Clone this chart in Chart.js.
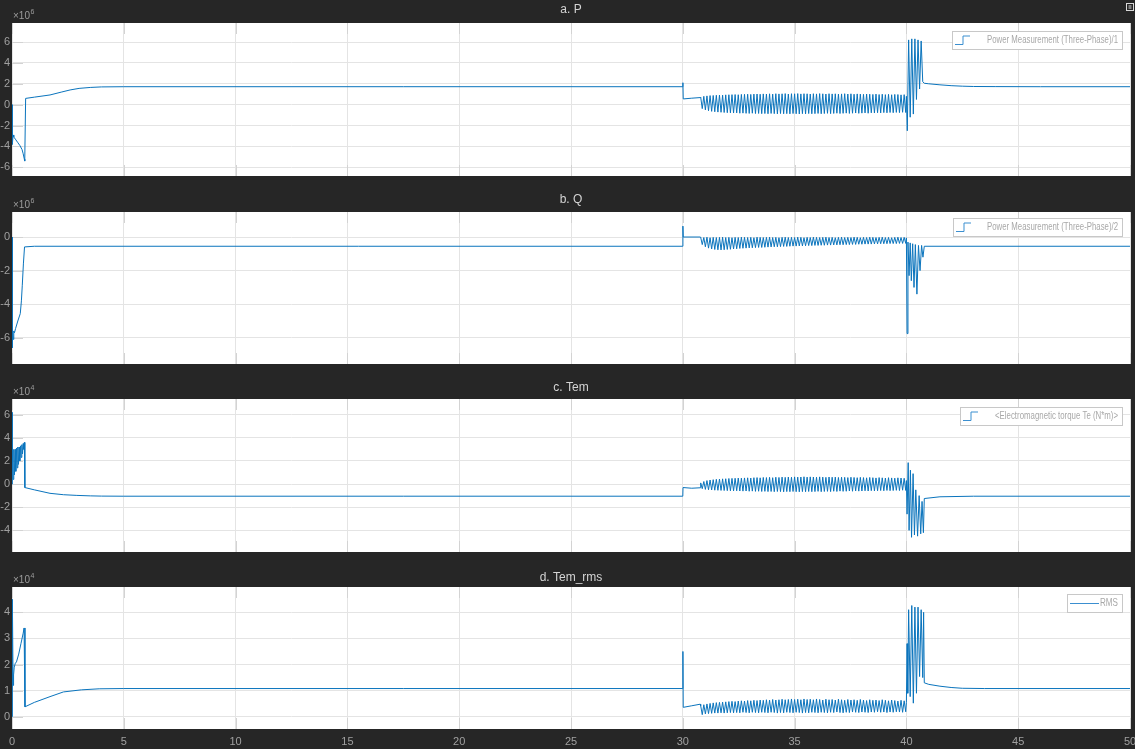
<!DOCTYPE html>
<html><head><meta charset="utf-8">
<script src="https://cdn.jsdelivr.net/npm/chart.js@4.4.0/dist/chart.umd.min.js"></script>
<style>
html,body{margin:0;padding:0;background:#262626;overflow:hidden;}
#wrap{position:relative;width:1135px;height:749px;background:#262626;}
canvas{position:absolute;left:0;}
</style></head><body><div id="wrap">
<canvas id="c1" width="1135" height="187" style="top:0px"></canvas>
<canvas id="c2" width="1135" height="189" style="top:187px"></canvas>
<canvas id="c3" width="1135" height="188" style="top:376px"></canvas>
<canvas id="c4" width="1135" height="185" style="top:564px"></canvas>
</div>
<script>
// ---------- shared oscillation instants (s) ----------
const oscHighT = [30.80,30.94,31.08,31.22,31.36,31.50,31.64,31.78,31.92,32.06,32.20,32.34,32.48,32.62,32.76,32.90,33.04,33.18,33.32,33.46,33.60,33.74,33.88,34.02,34.16,34.30,34.44,34.58,34.72,34.86,35.00,35.14,35.28,35.42,35.56,35.70,35.84,35.98,36.12,36.26,36.40,36.54,36.68,36.82,36.96,37.10,37.24,37.38,37.52,37.66,37.80,37.94,38.08,38.22,38.36,38.50,38.64,38.78,38.92,39.06,39.20,39.34,39.48,39.62,39.76,39.90];
const oscLowT = [30.87,31.01,31.15,31.29,31.43,31.57,31.71,31.85,31.99,32.13,32.27,32.41,32.55,32.69,32.83,32.97,33.11,33.25,33.39,33.53,33.67,33.81,33.95,34.09,34.23,34.37,34.51,34.65,34.79,34.93,35.07,35.21,35.35,35.49,35.63,35.77,35.91,36.05,36.19,36.33,36.47,36.61,36.75,36.89,37.03,37.17,37.31,37.45,37.59,37.73,37.87,38.01,38.15,38.29,38.43,38.57,38.71,38.85,38.99,39.13,39.27,39.41,39.55,39.69,39.83,39.97];

// ---------- a. P (x1e6) ----------
const pStartT = [0,0.01,0.02,0.05,0.08,0.15,0.25,0.35,0.45,0.5,0.55,0.57,0.61,1.0,1.7,2.2,2.6,3.0,3.5,4.0,5.0,30.0,30.005,30.02,30.4,30.78];
const pStartV = [0,-2.0,-3.8,-2.9,-3.1,-3.3,-3.6,-3.9,-4.3,-4.7,-5.2,-5.4,0.6,0.72,0.93,1.2,1.41,1.56,1.65,1.7,1.72,1.72,2.1,0.55,0.62,0.68];
const pHigh = [0.72,0.80,0.84,0.87,0.88,0.90,0.92,0.91,0.94,0.95,0.96,0.97,0.95,0.98,0.99,1.00,0.98,1.01,1.02,1.00,1.03,1.02,1.04,1.01,1.05,1.03,1.04,1.06,1.02,1.05,1.04,1.06,1.03,1.05,1.04,1.02,1.05,1.03,1.06,1.04,1.02,1.05,1.03,1.04,1.01,1.03,1.05,1.02,1.04,1.00,1.03,1.01,0.99,1.02,1.00,0.98,1.01,0.97,1.00,0.96,0.99,0.95,0.98,0.97,0.94,0.96];
const pLow = [-0.38,-0.50,-0.58,-0.64,-0.68,-0.71,-0.73,-0.75,-0.77,-0.78,-0.80,-0.79,-0.82,-0.81,-0.83,-0.84,-0.82,-0.85,-0.84,-0.86,-0.85,-0.87,-0.84,-0.86,-0.88,-0.85,-0.87,-0.86,-0.88,-0.85,-0.87,-0.89,-0.86,-0.88,-0.85,-0.87,-0.86,-0.84,-0.87,-0.85,-0.83,-0.86,-0.84,-0.82,-0.85,-0.83,-0.81,-0.84,-0.82,-0.80,-0.83,-0.81,-0.79,-0.82,-0.78,-0.80,-0.77,-0.79,-0.76,-0.78,-0.75,-0.77,-0.74,-0.76,-0.73,-0.75];
const pEndT = [40.0,40.04,40.1,40.17,40.24,40.31,40.38,40.45,40.52,40.59,40.66,40.73,40.8,41.0,41.5,42.0,42.5,43.0,44.0,46.0,50.0];
const pEndV = [0.8,-2.5,6.2,-1.2,6.3,-0.9,6.3,0.5,6.2,1.5,6.1,2.2,2.05,2.0,1.9,1.82,1.77,1.74,1.73,1.72,1.72];

// ---------- b. Q (x1e6) ----------
const qStartT = [0,0.005,0.015,0.025,0.04,0.06,0.08,0.11,0.16,0.26,0.37,0.42,0.46,0.51,0.56,1.0,30.0,30.005,30.02,30.78];
const qStartV = [0,-6.6,-5.6,-6.5,-5.5,-6.1,-5.6,-5.7,-5.45,-5.0,-4.56,-3.8,-2.87,-1.6,-0.59,-0.55,-0.55,0.65,0.0,0.0];
const qHigh = [-0.02,-0.03,-0.01,-0.04,-0.02,-0.03,-0.02,-0.01,-0.03,-0.02,-0.04,-0.02,-0.03,-0.01,-0.02,-0.03,-0.02,-0.04,-0.01,-0.02,-0.03,-0.02,-0.01,-0.03,-0.02,-0.04,-0.02,-0.01,-0.03,-0.02,-0.03,-0.01,-0.02,-0.04,-0.02,-0.03,-0.01,-0.02,-0.03,-0.02,-0.01,-0.03,-0.02,-0.04,-0.02,-0.01,-0.03,-0.02,-0.03,-0.01,-0.02,-0.04,-0.02,-0.03,-0.01,-0.02,-0.03,-0.02,-0.01,-0.03,-0.02,-0.04,-0.02,-0.01,-0.03,-0.02];
const qLow = [-0.45,-0.58,-0.66,-0.71,-0.74,-0.76,-0.77,-0.76,-0.74,-0.73,-0.71,-0.70,-0.68,-0.67,-0.66,-0.65,-0.64,-0.63,-0.62,-0.62,-0.61,-0.60,-0.59,-0.58,-0.58,-0.57,-0.56,-0.56,-0.55,-0.54,-0.54,-0.53,-0.53,-0.52,-0.51,-0.51,-0.50,-0.50,-0.49,-0.49,-0.48,-0.48,-0.47,-0.47,-0.46,-0.46,-0.45,-0.45,-0.44,-0.44,-0.43,-0.43,-0.42,-0.42,-0.42,-0.41,-0.41,-0.40,-0.40,-0.40,-0.39,-0.39,-0.39,-0.38,-0.38,-0.38];
const qEndT = [40.0,40.03,40.07,40.12,40.17,40.22,40.28,40.34,40.4,40.47,40.54,40.61,40.68,40.74,40.8,50.0];
const qEndV = [-0.05,-5.75,-0.3,-2.3,-0.35,-2.6,-0.4,-3.0,-0.45,-3.4,-0.5,-2.0,-0.5,-1.2,-0.55,-0.55];

// ---------- c. Tem (x1e4) ----------
const tStartT = [0,0.005,0.015,0.03,0.05,0.08,0.11,0.14,0.17,0.2,0.23,0.26,0.29,0.32,0.35,0.38,0.41,0.44,0.47,0.5,0.53,0.555,0.575,1.0,1.7,2.3,2.9,3.5,4.0,5.0,30.0,30.01,30.4,30.78];
const tStartV = [0,6.2,0.2,2.9,0.4,3.0,0.8,3.0,1.1,3.1,1.4,3.2,1.7,3.2,2.0,3.3,2.3,3.4,2.6,3.5,3.0,3.6,-0.3,-0.5,-0.8,-0.92,-0.98,-1.02,-1.04,-1.05,-1.05,-0.3,-0.36,-0.32];
const tHigh = [0.10,0.22,0.30,0.35,0.38,0.41,0.43,0.45,0.46,0.48,0.49,0.50,0.52,0.51,0.53,0.54,0.52,0.55,0.56,0.54,0.57,0.56,0.58,0.55,0.59,0.57,0.60,0.58,0.61,0.59,0.62,0.60,0.61,0.63,0.60,0.62,0.61,0.59,0.62,0.60,0.58,0.61,0.59,0.60,0.57,0.59,0.58,0.56,0.59,0.57,0.55,0.58,0.56,0.54,0.57,0.55,0.53,0.56,0.54,0.52,0.55,0.53,0.51,0.54,0.52,0.50];
const tLow = [-0.40,-0.46,-0.49,-0.51,-0.53,-0.54,-0.55,-0.56,-0.57,-0.58,-0.59,-0.58,-0.60,-0.61,-0.60,-0.62,-0.61,-0.63,-0.62,-0.64,-0.63,-0.65,-0.64,-0.66,-0.64,-0.65,-0.67,-0.65,-0.66,-0.64,-0.66,-0.67,-0.65,-0.66,-0.64,-0.66,-0.65,-0.63,-0.66,-0.64,-0.63,-0.65,-0.62,-0.64,-0.61,-0.63,-0.62,-0.60,-0.62,-0.59,-0.61,-0.60,-0.58,-0.60,-0.57,-0.59,-0.58,-0.56,-0.58,-0.55,-0.57,-0.56,-0.54,-0.56,-0.53,-0.55];
const tEndT = [40.0,40.03,40.08,40.12,40.18,40.23,40.3,40.36,40.42,40.5,40.57,40.64,40.7,40.76,40.8,41.5,43.0,50.0];
const tEndV = [0.3,-2.6,1.85,-4.0,1.2,-4.6,0.9,-4.4,-0.5,-4.5,-1.0,-4.3,-1.5,-4.2,-1.25,-1.1,-1.05,-1.05];

// ---------- d. Tem_rms (x1e4) ----------
const rStartT = [0,0.005,0.02,0.03,0.05,0.07,0.1,0.15,0.2,0.3,0.4,0.5,0.54,0.58,1.0,1.7,2.3,3.1,3.9,5.0,30.0,30.005,30.02,30.4,30.78];
const rStartV = [0,4.5,0.5,4.3,1.2,1.6,1.9,2.05,2.1,2.4,2.8,3.2,3.4,0.38,0.55,0.77,0.95,1.03,1.07,1.08,1.08,2.5,0.36,0.42,0.48];
const rHigh = [0.42,0.46,0.49,0.51,0.53,0.54,0.55,0.56,0.57,0.58,0.59,0.58,0.60,0.61,0.60,0.62,0.61,0.63,0.62,0.64,0.63,0.65,0.64,0.66,0.64,0.65,0.67,0.65,0.66,0.68,0.66,0.67,0.65,0.68,0.66,0.67,0.65,0.68,0.66,0.64,0.67,0.65,0.66,0.64,0.67,0.65,0.63,0.66,0.64,0.65,0.63,0.66,0.64,0.62,0.65,0.63,0.64,0.62,0.65,0.63,0.61,0.64,0.62,0.60,0.63,0.61];
const rLow = [0.08,0.11,0.12,0.13,0.14,0.14,0.15,0.14,0.15,0.16,0.15,0.16,0.15,0.17,0.16,0.15,0.17,0.16,0.15,0.17,0.16,0.15,0.17,0.16,0.14,0.16,0.15,0.17,0.16,0.15,0.17,0.16,0.14,0.16,0.15,0.17,0.16,0.15,0.17,0.16,0.15,0.17,0.16,0.18,0.16,0.15,0.17,0.16,0.18,0.17,0.16,0.18,0.17,0.16,0.18,0.17,0.19,0.17,0.18,0.16,0.18,0.17,0.19,0.18,0.17,0.19];
const rEndT = [40.0,40.03,40.06,40.1,40.17,40.24,40.31,40.38,40.45,40.52,40.59,40.66,40.73,40.77,40.8,41.0,41.5,42.0,42.5,43.5,50.0];
const rEndV = [0.55,2.8,0.9,4.1,0.77,4.26,0.52,4.2,0.9,4.2,1.54,4.1,1.5,4.0,1.3,1.24,1.17,1.12,1.09,1.08,1.08];

const xTicksStep = 5;

function buildSeries(sT, sV, hi, lo, eT, eV) {
  const pts = [];
  sT.forEach((t, i) => pts.push({x: t, y: sV[i]}));
  oscHighT.forEach((t, i) => { pts.push({x: t, y: hi[i]}); pts.push({x: oscLowT[i], y: lo[i]}); });
  eT.forEach((t, i) => pts.push({x: t, y: eV[i]}));
  return pts;
}

const BG = '#262626';
const LINE = '#0a74bd';

const decor = {
  id: 'decor',
  beforeDraw(chart) {
    const c = chart.ctx, a = chart.chartArea;
    c.save();
    c.fillStyle = BG; c.fillRect(0, 0, chart.width, chart.height);
    c.fillStyle = '#ffffff'; c.fillRect(a.left, a.top, a.right - a.left, a.bottom - a.top);
    c.restore();
  },
  beforeDatasetsDraw(chart) {
    const c = chart.ctx, a = chart.chartArea;
    const xs = chart.scales.x, ys = chart.scales.y;
    c.save(); c.strokeStyle = '#d3d3d3'; c.lineWidth = 1; c.beginPath();
    xs.ticks.forEach(t => { const px = Math.round(xs.getPixelForValue(t.value)) + 0.5;
      c.moveTo(px, a.top); c.lineTo(px, a.top + 11); c.moveTo(px, a.bottom); c.lineTo(px, a.bottom - 11); });
    ys.ticks.forEach(t => { const py = Math.round(ys.getPixelForValue(t.value)) + 0.5;
      c.moveTo(a.left, py); c.lineTo(a.left + 11, py); });
    c.stroke(); c.restore();
  },
  afterDraw(chart, args, o) {
    const c = chart.ctx, a = chart.chartArea;
    c.save();
    // title
    c.fillStyle = '#d4d4d4'; c.font = '12px "Liberation Sans", Arial, sans-serif';
    c.textAlign = 'center'; c.textBaseline = 'middle';
    c.fillText(o.title, (a.left + a.right) / 2, a.top + o.titleDy);
    // exponent
    c.fillStyle = '#9c9c9c'; c.textAlign = 'left'; c.textBaseline = 'alphabetic';
    c.font = '10px "Liberation Sans", Arial, sans-serif';
    const bx = a.left + 1, by = a.top - 4;
    c.fillText('\u00d710', bx, by);
    const w = c.measureText('\u00d710').width;
    c.font = '7px "Liberation Sans", Arial, sans-serif';
    c.fillText(o.exp, bx + w + 0.5, by - 5);
    // legend
    const L = o.legend;
    const x2 = a.right - 8, y1 = a.top + L.dy, x1 = x2 - L.w, h = 18;
    c.fillStyle = '#ffffff'; c.fillRect(x1, y1, L.w, h);
    c.strokeStyle = '#c8c8c8'; c.lineWidth = 1; c.strokeRect(Math.round(x1) + 0.5, Math.round(y1) + 0.5, L.w, h);
    c.strokeStyle = '#3b8fd0'; c.beginPath();
    const cy = y1 + h / 2;
    if (L.icon === 'step') {
      c.moveTo(x1 + 3, cy + 4.5); c.lineTo(x1 + 11, cy + 4.5); c.lineTo(x1 + 11, cy - 4); c.lineTo(x1 + 18, cy - 4);
    } else {
      c.moveTo(x1 + 3, cy + 0.5); c.lineTo(x1 + 32, cy + 0.5);
    }
    c.stroke();
    c.fillStyle = '#a8a8a8'; c.font = '10.5px "Liberation Sans", Arial, sans-serif';
    c.textAlign = 'right'; c.textBaseline = 'middle';
    c.fillText(chart.data.datasets[0].label, x2 - 4, cy + 0.5, L.tw);
    c.restore();
    if (o.corner) {
      c.save(); c.strokeStyle = '#d8d8d8'; c.lineWidth = 1;
      c.strokeRect(1126.5, 3.5, 7, 7); c.beginPath(); c.moveTo(1128.5, 6); c.lineTo(1131.5, 6); c.moveTo(1128.5, 8); c.lineTo(1131.5, 8); c.stroke();
      c.restore();
    }
  }
};

function makeChart(id, cfg) {
  return new Chart(document.getElementById(id), {
    type: 'line',
    data: { datasets: [{ label: cfg.label, data: cfg.data, borderColor: LINE, borderWidth: 1,
      pointRadius: 0, tension: 0, fill: false }] },
    options: {
      responsive: false, animation: false, devicePixelRatio: 1, events: [],
      layout: { padding: { left: 0, right: 5, top: cfg.top, bottom: 0 } },
      plugins: { legend: { display: false }, tooltip: { enabled: false },
        decor: { title: cfg.title, titleDy: cfg.titleDy, exp: cfg.exp, legend: cfg.legend, corner: cfg.corner } },
      scales: {
        x: { type: 'linear', min: 0, max: 50,
          ticks: { stepSize: xTicksStep, display: cfg.showX, color: '#a0a0a0', font: { size: 11, family: '"Liberation Sans", Arial, sans-serif' }, padding: 6, maxRotation: 0, autoSkip: false, includeBounds: false },
          grid: { color: '#e4e4e4', drawTicks: false }, border: { display: false },
          afterFit(s) { s.height = cfg.xh; s.paddingLeft = 0; s.paddingRight = 0; } },
        y: { type: 'linear', min: cfg.ymin, max: cfg.ymax,
          ticks: { stepSize: cfg.ystep, color: '#a0a0a0', font: { size: 11, family: '"Liberation Sans", Arial, sans-serif' }, padding: 2, includeBounds: false },
          grid: { color: '#e4e4e4', drawTicks: false }, border: { display: false },
          afterFit(s) { s.width = 12; s.paddingTop = 0; s.paddingBottom = 0; } }
      }
    },
    plugins: [decor]
  });
}

makeChart('c1', { label: 'Power Measurement (Three-Phase)/1', data: buildSeries(pStartT, pStartV, pHigh, pLow, pEndT, pEndV),
  top: 23, xh: 11, showX: false, ymin: -6.83, ymax: 7.82, ystep: 2, title: 'a. P', titleDy: -13, exp: '6',
  legend: { dy: 8, w: 170, tw: 131, icon: 'step' }, corner: true });
makeChart('c2', { label: 'Power Measurement (Three-Phase)/2', data: buildSeries(qStartT, qStartV, qHigh, qLow, qEndT, qEndV),
  top: 25, xh: 12, showX: false, ymin: -7.56, ymax: 1.49, ystep: 2, title: 'b. Q', titleDy: -12, exp: '6',
  legend: { dy: 6, w: 169, tw: 131, icon: 'step' } });
makeChart('c3', { label: '<Electromagnetic torque Te (N*m)>', data: buildSeries(tStartT, tStartV, tHigh, tLow, tEndT, tEndV),
  top: 23, xh: 12, showX: false, ymin: -5.87, ymax: 7.35, ystep: 2, title: 'c. Tem', titleDy: -11, exp: '4',
  legend: { dy: 8, w: 162, tw: 123, icon: 'step' } });
makeChart('c4', { label: 'RMS', data: buildSeries(rStartT, rStartV, rHigh, rLow, rEndT, rEndV),
  top: 23, xh: 20, showX: true, ymin: -0.47, ymax: 4.97, ystep: 1, title: 'd. Tem_rms', titleDy: -9, exp: '4',
  legend: { dy: 7, w: 55, tw: 18, icon: 'line' } });
</script>
</body></html>
